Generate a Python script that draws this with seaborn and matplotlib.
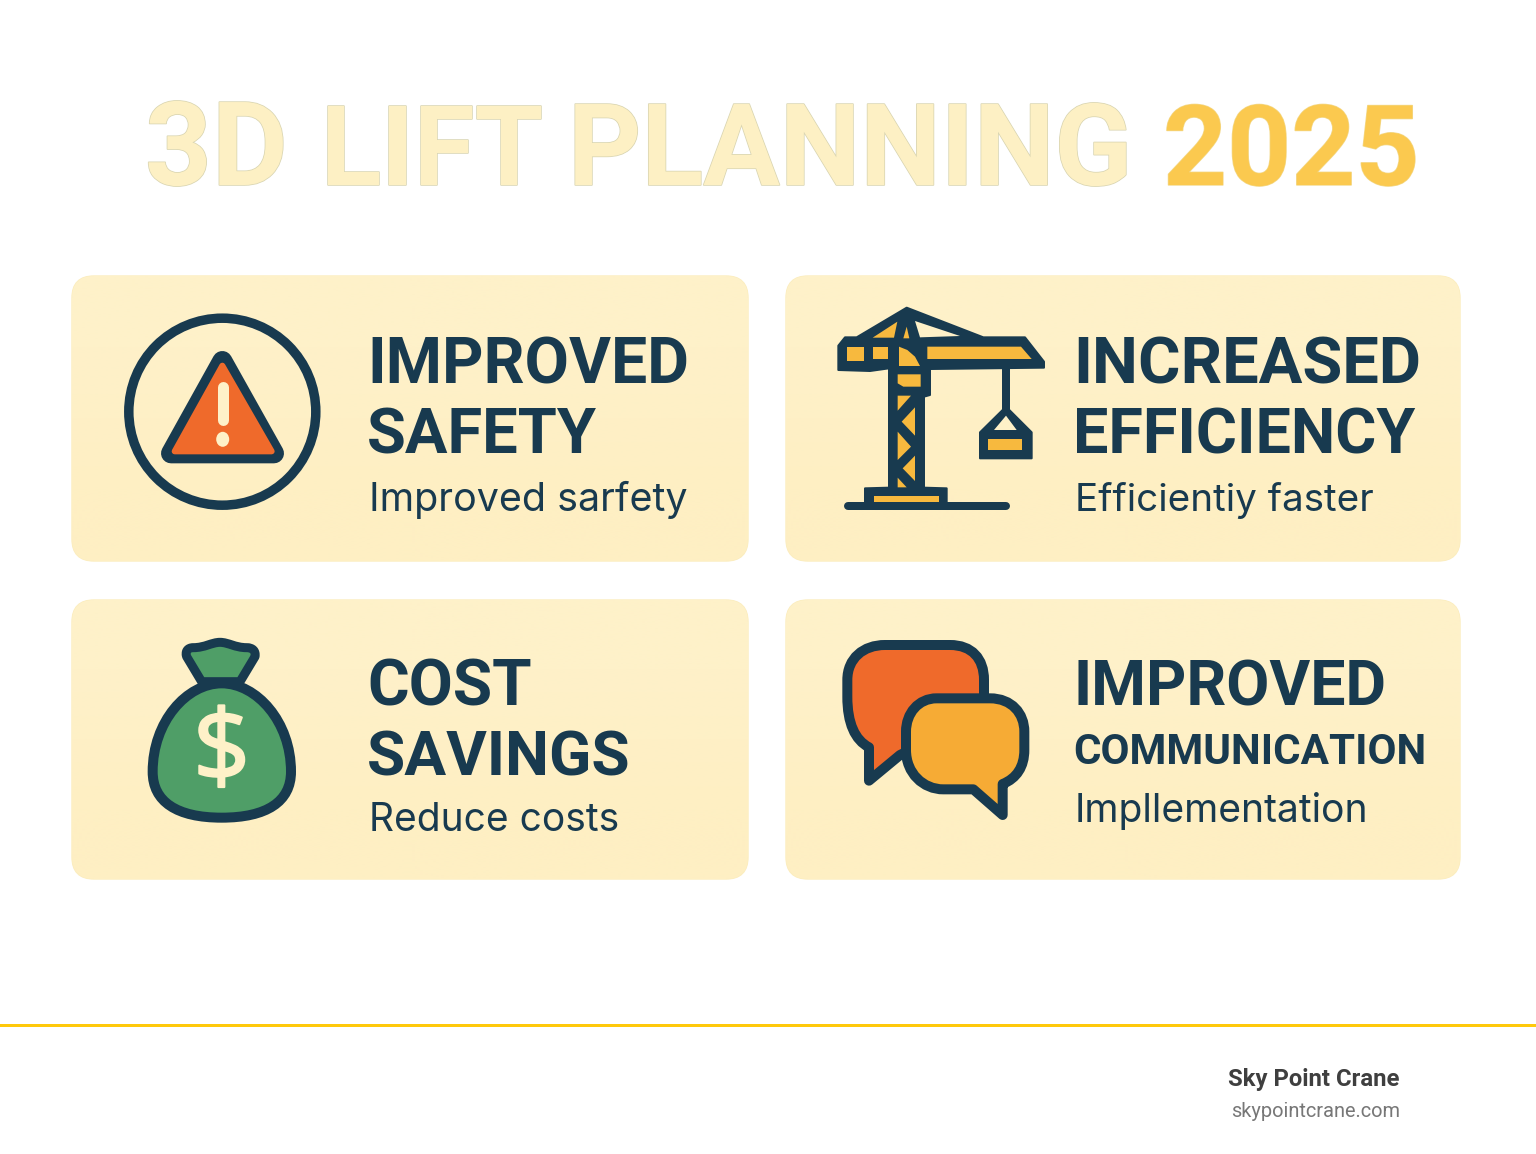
import matplotlib
matplotlib.use("Agg")
import matplotlib.pyplot as plt
import matplotlib.patheffects as pe
from matplotlib.colors import to_rgb
from matplotlib.patches import Circle, Ellipse, FancyBboxPatch, PathPatch, Polygon, Rectangle
from matplotlib.path import Path
import numpy as np
import seaborn as sns

# text of the graphic
title_words = ["3D", "LIFT", "PLANNING"]
title_year = "2025"
card_heads = [["IMPROVED", "SAFETY"], ["INCREASED", "EFFICIENCY"], ["COST", "SAVINGS"], ["IMPROVED", "COMMUNICATION"]]
card_subs = ["Improved sarfety", "Efficientiy faster", "Reduce costs", "Impllementation"]
brand = "Sky Point Crane"
site = "skypointcrane.com"

DARK = "#183A4F"
CREAM = "#FEF1C8"
YELLOW = "#F7B93E"
ORANGE = "#EF6A2B"
AMBER = "#F6AB35"
GREEN = "#4F9E67"

sns.set_theme(style="white")
plt.rcParams["font.family"] = ["Inter", "DejaVu Sans"]

fig = plt.figure(figsize=(15.36, 11.54), dpi=100)
ax = fig.add_axes([0, 0, 1, 1])


def px(v):
    return v * 0.72


def zoomed(pts, ox, oy):
    return [(ox + x / 3, oy + y / 3) for x, y in pts]


def poly(pts, ox, oy, fc, ec=None, lw=0, z=3):
    ax.add_patch(Polygon(zoomed(pts, ox, oy), closed=True, fc=fc, ec=ec or fc, lw=px(lw), joinstyle="round", zorder=z))


def curve(verts, codes, ox, oy, fc, lw, z=3):
    ax.add_patch(PathPatch(Path(zoomed(verts, ox, oy), codes), fc=fc, ec=DARK, lw=px(lw), joinstyle="round", zorder=z))


# title
word_x = [145, 321, 568]
word_size = [84, 80, 82]
for word, x, size in zip(title_words, word_x, word_size):
    t = ax.text(x, 185, word, fontsize=size, fontweight="bold", family="Roboto", color="#FDF0C4", va="baseline")
    t.set_path_effects([pe.withStroke(linewidth=1.1, foreground="#D9D5B2")])
t2 = ax.text(1163, 185, title_year, fontsize=80.5, fontweight="bold", family="Roboto", color="#FBC94F", va="baseline")
t2.set_path_effects([pe.withStroke(linewidth=1.0, foreground="#F3D98C")])

# cards, slightly deeper towards the bottom
cards = [(72, 276, 676, 285), (786, 276, 674, 285), (72, 600, 676, 279), (786, 600, 674, 279)]
shade = np.array([[to_rgb("#FEF1C9")], [to_rgb("#FEEFC3")]])
for x, y, w, h in cards:
    box = FancyBboxPatch((x, y), w, h, boxstyle="round,pad=0,rounding_size=22",
                         fc=CREAM, ec="#FBEDBE", lw=1.0, zorder=1)
    ax.add_patch(box)
    img = ax.imshow(shade, extent=(x, x + w, y + h, y), aspect="auto", interpolation="bilinear", zorder=1.5)
    img.set_clip_path(box)

ax.set_xlim(0, 1536)
ax.set_ylim(1154, 0)
ax.axis("off")

# card text
head_x = [367, 1073, 367, 1073]
base_y = [(383, 454, 511), (383, 454, 511), (705, 775, 831), (705, 764, 822)]
head_size = [(46.3, 45.5), (46.8, 45.3), (46, 44.8), (45, 30.3)]
sub_size = [28.4, 27.8, 28, 28.1]
for i in range(4):
    for j, line in enumerate(card_heads[i]):
        ax.text(head_x[i], base_y[i][j], line, fontsize=head_size[i][j], fontweight="bold", family="Roboto",
                color=DARK, va="baseline", zorder=4)
    ax.text(head_x[i] + 2, base_y[i][2], card_subs[i], fontsize=sub_size[i], color=DARK, va="baseline", zorder=4)

# warning icon
ax.add_patch(Circle((222.3, 411.7), 93.5, fc="none", ec=DARK, lw=px(9.5), zorder=3))
poly([(337, 183), (183, 460), (492, 460)], 110, 300, DARK, lw=20)
poly([(337, 197), (194, 454), (485, 454)], 110, 300, ORANGE, lw=6, z=4)
ax.plot([223, 223], [387, 420], color=CREAM, lw=px(11), solid_capstyle="round", zorder=5)
ax.add_patch(Ellipse((222.7, 439.3), 13, 15, fc=CREAM, ec="none", zorder=5))

# crane
ox, oy = 820, 295
poly([(260, 38), (110, 127), (75, 127), (55, 152), (55, 225), (150, 228), (207, 220), (207, 578), (135, 580),
      (135, 625), (380, 625), (380, 580), (312, 578), (312, 305), (330, 300), (330, 222), (672, 218), (672, 200),
      (615, 127), (490, 127)], ox, oy, DARK, lw=2)
ax.plot([848, 1006], [506, 506], color=DARK, lw=px(8), solid_capstyle="round", zorder=3)
poly([(547, 218), (570, 218), (570, 345), (547, 345)], ox, oy, DARK)
poly([(558, 335), (635, 412), (635, 490), (480, 490), (480, 412)], ox, oy, DARK, lw=2)
poly([(285, 78), (420, 123), (300, 127)], ox, oy, CREAM, z=4)
poly([(558, 362), (590, 405), (522, 405)], ox, oy, CREAM, z=4)
crane_fills = [
    [(232, 80), (158, 128), (222, 128)],
    [(260, 95), (250, 130), (268, 130)],
    [(80, 155), (133, 155), (133, 197), (80, 197)],
    [(160, 155), (205, 155), (205, 192), (160, 192)],
    [(237, 155), (262, 165), (285, 185), (300, 213), (237, 213)],
    [(322, 155), (603, 155), (635, 192), (322, 192)],
    [(233, 238), (302, 238), (302, 275), (250, 275), (233, 265)],
    [(233, 302), (273, 302), (233, 347)],
    [(285, 337), (285, 422), (245, 380)],
    [(233, 410), (273, 455), (233, 495)],
    [(285, 482), (285, 558), (248, 520)],
    [(233, 548), (260, 577), (233, 577)],
    [(162, 604), (358, 604), (358, 622), (162, 622)],
    [(503, 432), (605, 432), (605, 465), (503, 465)],
]
for pts in crane_fills:
    poly(pts, ox, oy, YELLOW, z=4)

# money bag
ox, oy = 130, 625
M, L, C, Z = Path.MOVETO, Path.LINETO, Path.CURVE4, Path.CLOSEPOLY
curve([(215, 170), (170, 95), (165, 80), (172, 68), (190, 68), (225, 68), (245, 52), (270, 52), (295, 52), (315, 68),
       (350, 68), (368, 68), (378, 78), (375, 95), (330, 170), (215, 170)],
      [M, L, C, C, C, C, C, C, C, C, C, C, C, C, L, Z], ox, oy, GREEN, 9)
curve([(275, 175), (170, 175), (68, 290), (68, 440), (68, 530), (140, 578), (275, 578),
       (410, 578), (483, 530), (483, 440), (483, 290), (380, 175), (275, 175), (275, 175)],
      [M, C, C, C, C, C, C, C, C, C, C, C, C, Z], ox, oy, GREEN, 10, z=4)
dollar = ax.text(221.7, 755, "$", fontsize=72, color=CREAM, ha="center", va="center", family="Open Sans", zorder=5)
dollar.set_path_effects([pe.withStroke(linewidth=1.5, foreground=CREAM)])

# speech bubbles
ox, oy = 830, 630
curve([(165, 45), (360, 45), (425, 45), (462, 85), (462, 150), (462, 250), (210, 375), (117, 452), (117, 352),
       (75, 330), (52, 280), (52, 200), (52, 150), (52, 85), (100, 45), (165, 45), (165, 45)],
      [M, L, C, C, C, L, L, L, L, C, C, C, L, C, C, C, Z], ox, oy, ORANGE, 10)
curve([(320, 205), (480, 205), (545, 205), (583, 250), (583, 305), (583, 360), (583, 410), (560, 445), (518, 462),
       (518, 555), (430, 478), (340, 478), (280, 478), (228, 430), (228, 360), (228, 305), (228, 250), (265, 205),
       (320, 205), (320, 205)],
      [M, L, C, C, C, L, C, C, C, L, L, L, C, C, C, L, C, C, C, Z], ox, oy, AMBER, 10, z=4)

# footer
ax.add_patch(Rectangle((0, 1024), 1536, 3, fc="#FFC90B", ec="none"))
ax.text(1400, 1086, brand, fontsize=17.2, fontweight="bold", family="Roboto", color="#3F3F3F", ha="right", va="baseline")
ax.text(1400, 1117, site, fontsize=14.4, family="Roboto", color="#777777", ha="right", va="baseline")

fig.savefig("out.png", dpi=100, facecolor="white")
